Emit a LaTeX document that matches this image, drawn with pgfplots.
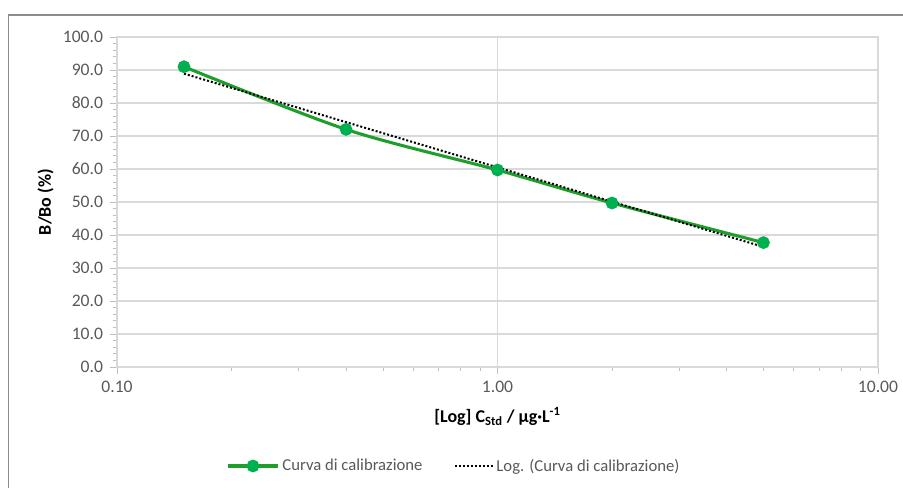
\documentclass[border=0pt]{standalone}
\usepackage{fontspec}
\setmainfont{Carlito}
\usepackage{pgfplots}
\pgfplotsset{compat=1.18}
\definecolor{gridc}{HTML}{D9D9D9}
\definecolor{axisc}{HTML}{BFBFBF}
\definecolor{textc}{HTML}{595959}
\definecolor{linec}{HTML}{1E9E2A}
\definecolor{markc}{HTML}{00B050}
\definecolor{framec}{HTML}{8C8C8C}
\begin{document}
\begin{tikzpicture}[x=0.75pt,y=0.75pt]
\useasboundingbox (-117,-120) rectangle (786,367);
\draw[framec, line width=1pt] (-108.5,-125) -- (-108.5,352) -- (790,352);
\begin{axis}[
  at={(0,0)}, anchor=south west,
  scale only axis, width=570.75pt, height=247.5pt,
  xmode=log, xmin=0.1, xmax=10, ymin=0, ymax=100,
  xtick={0.1,1,10}, xticklabels={0.10,1.00,10.00},
  ytick={0,10,...,100},
  minor y tick num=4,
  yticklabel={\pgfmathprintnumber[fixed,fixed zerofill,precision=1]{\tick}},
  /pgf/number format/assume math mode=true,
  xmajorgrids, ymajorgrids,
  grid style={gridc, line width=0.8pt},
  axis line style={gridc, line width=0.8pt},
  xtick pos=bottom, ytick pos=left,
  tick align=outside,
  major tick length=5pt, minor tick length=3pt,
  tick style={axisc, line width=0.6pt},
  ticklabel style={font=\fontsize{13.2}{16}\selectfont, text=textc},
  xticklabel style={yshift=-2pt},
  yticklabel style={xshift=-2pt},
  xlabel={\textbf{[Log] C\textsubscript{Std} / µg·L\textsuperscript{-1}}},
  ylabel={\textbf{B/Bo (\%)}},
  label style={font=\fontsize{13.5}{16}\selectfont, text=black},
  xlabel style={yshift=-4pt},
  legend style={at={(0.443,-0.3)}, anchor=center, draw=none, legend columns=2,
    font=\fontsize{12.5}{15}\selectfont, text=textc,
    /tikz/every even column/.append style={column sep=22pt}},
  legend cell align=left,
  clip=false,
]
\addplot[linec, line width=2.3pt, smooth, tension=0.5,
  mark=*, mark size=3.6pt, mark options={markc, fill=markc, draw=markc},
  legend image code/.code={\draw[mark repeat=2,mark phase=2] plot coordinates {(0pt,0pt) (19pt,0pt) (38pt,0pt)};}]
  coordinates {(0.15,91.0) (0.4,72.0) (1,59.7) (2,49.7) (5,37.7)};
\addlegendentry{Curva di calibrazione}
\addplot[black, line width=1.5pt, dash pattern=on 1.5pt off 1.5pt,
  legend image code/.code={\draw (0pt,0pt) -- (28pt,0pt);}]
  coordinates {(0.15,88.9) (0.4,74.2) (1,60.5) (2,50.1) (5,36.4)};
\addlegendentry{Log. (Curva di calibrazione)}
\end{axis}
\end{tikzpicture}
\end{document}
